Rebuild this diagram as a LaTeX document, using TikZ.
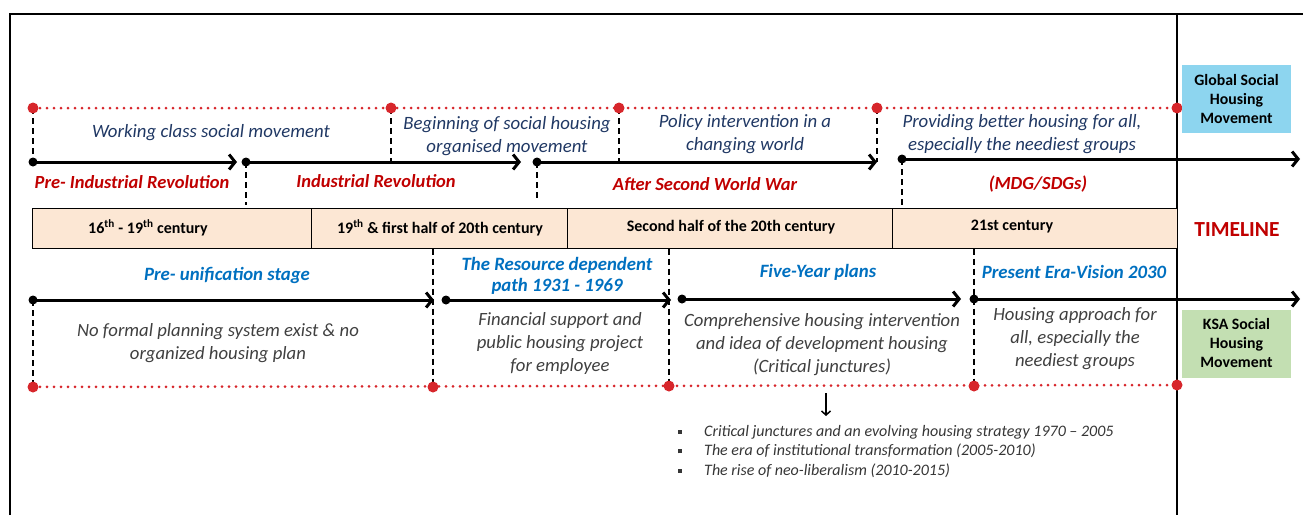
\documentclass[tikz,border=0pt]{standalone}
\usepackage{fontspec}
\setmainfont{Carlito}
\usetikzlibrary{arrows.meta,positioning}
\definecolor{dotred}{HTML}{D7262B}
\definecolor{navy}{HTML}{203864}
\definecolor{erared}{HTML}{C00000}
\definecolor{stageblue}{HTML}{0070C0}
\definecolor{notegray}{HTML}{404040}
\definecolor{peach}{HTML}{FCE7D4}
\definecolor{skyfill}{HTML}{8DD5EF}
\definecolor{greenfill}{HTML}{C3DFB2}

\begin{document}
\begin{tikzpicture}[x=1pt,y=-1pt,
  frame/.style={line width=2pt},
  reddot/.style={draw=dotred,line width=3pt,line cap=round,dash pattern=on 0pt off 7pt},
  guide/.style={line width=1.8pt,dash pattern=on 6pt off 4pt},
  tl/.style={line width=3pt,-{Straight Barb[length=6pt,width=15pt]}},
  phase/.style={text=navy,font=\fontsize{18.8}{23}\selectfont\itshape,align=center},
  era/.style={text=erared,font=\fontsize{18.5}{20}\selectfont\bfseries\itshape},
  stage/.style={text=stageblue,font=\fontsize{18.8}{21}\selectfont\bfseries\itshape,align=center},
  note/.style={text=notegray,font=\fontsize{18.7}{23}\selectfont\itshape,align=center},
  cell/.style={draw,line width=1pt,fill=peach,minimum height=40pt,inner sep=0pt},
  celltext/.style={font=\fontsize{16}{18}\selectfont\bfseries},
  movebox/.style={minimum width=109pt,minimum height=68pt,align=center,
    font=\fontsize{15.8}{19}\selectfont\bfseries}]
  \useasboundingbox (0,0) rectangle (1303,515);

  % frame
  \draw[frame] (10,515) -- (10,14) -- (1303,14);
  \draw[frame] (1177,14) -- (1177,515);

  % global social housing movement
  \coordinate (t0) at (33,108);
  \coordinate (t1) at (391,108);
  \coordinate (t2) at (619,108);
  \coordinate (t3) at (877,108);
  \coordinate (t4) at (1177,108);
  \coordinate (p0) at (33,162);   \coordinate (p0e) at (237,162);
  \coordinate (p1) at (246,162);  \coordinate (p1e) at (521,162);
  \coordinate (p2) at (537,162);  \coordinate (p2e) at (877,162);
  \coordinate (p3) at (902,159);  \coordinate (p3e) at (1300,159);
  \draw[reddot] (t0) -- (t4);
  \draw[guide] (t0) -- (p0);
  \draw[guide] (t1) -- (t1 |- p1);
  \draw[guide] (t2) -- (t2 |- p2);
  \draw[guide] (t3) -- (p2e);
  \draw[guide] (p1) -- ++(0,43);
  \draw[guide] (p2) -- ++(0,36);
  \draw[guide] (p3) -- ++(0,46);
  \foreach \a/\b in {p0/p0e,p1/p1e,p2/p2e,p3/p3e} {
    \draw[tl] (\a) -- (\b);
    \fill (\a) circle (4.5pt);
  }
  \foreach \p in {t0,t1,t2,t3,t4}
    \fill[dotred] (\p) circle (5.5pt);

  \node[phase] (ph1) at (211,133) {Working class social movement};
  \node[phase] (ph2) at (507,136) {Beginning of social housing\\organised movement};
  \node[phase] (ph3) at (745,134) {Policy intervention in a\\changing world};
  \node[phase] (ph4) at (1022,134) {Providing better housing for all,\\especially the neediest groups};
  \node[era] (er1) at (132,182) {Pre- Industrial Revolution};
  \node[era] (er2) at (376,181) {Industrial Revolution};
  \node[era] (er3) at (705,184) {After Second World War};
  \node[era] (er4) at (1038,184) {(MDG/SDGs)};

  % timeline
  \node[cell,minimum width=279pt] (c1) at (171.5,228) {};
  \node[cell,minimum width=256pt] (c2) at (439,228) {};
  \node[cell,minimum width=325pt] (c3) at (729.5,228) {};
  \node[cell,minimum width=285pt] (c4) at (1034.5,228) {};
  \node[celltext] (y1) at (148,228) {16\textsuperscript{th} - 19\textsuperscript{th} century};
  \node[celltext] (y2) at (440,228) {19\textsuperscript{th} \& first half of 20th century};
  \node[celltext] (y3) at (731,227) {Second half of the 20th century};
  \node[celltext] (y4) at (1012,227) {21st century};
  \node[text=erared,font=\fontsize{21.5}{24}\selectfont\bfseries] (tml) at (1237,230) {TIMELINE};

  \node[movebox,fill=skyfill] (gsh) at (1236.5,99) {Global Social\\Housing\\Movement};
  \node[movebox,fill=greenfill] (ksa) at (1236.5,343.5) {KSA Social\\Housing\\Movement};

  % KSA social housing movement
  \coordinate (b0) at (33,387);
  \coordinate (b1) at (433,387);
  \coordinate (b2) at (669,386);
  \coordinate (b3) at (974,386);
  \coordinate (b4) at (1177,385);
  \coordinate (q0) at (33,300);   \coordinate (q0e) at (434,300);
  \coordinate (q1) at (446,300);  \coordinate (q1e) at (671,300);
  \coordinate (q2) at (682,299);  \coordinate (q2e) at (961,299);
  \coordinate (q3) at (974,299);  \coordinate (q3e) at (1300,299);
  \draw[reddot] (b0) -- (b4);
  \draw[guide] (q0) -- (b0);
  \draw[guide] (b1 |- c2.south) -- (b1);
  \draw[guide] (b2 |- c3.south) -- (b2);
  \draw[guide] (b3 |- c4.south) -- (b3);
  \foreach \a/\b in {q0/q0e,q1/q1e,q2/q2e,q3/q3e} {
    \draw[tl] (\a) -- (\b);
    \fill (\a) circle (4.5pt);
  }
  \foreach \p in {b0,b1,b2,b3,b4}
    \fill[dotred] (\p) circle (5.5pt);

  \node[stage] (st1) at (227,275) {Pre- unification stage};
  \node[stage] (st2) at (557,276) {The Resource dependent\\path 1931 - 1969};
  \node[stage] (st3) at (818,272) {Five-Year plans};
  \node[stage] (st4) at (1074,272) {Present Era-Vision 2030};
  \node[note] (nt1) at (218,343) {No formal planning system exist \& no\\organized housing plan};
  \node[note] (nt2) at (560,344) {Financial support and\\public housing project\\for employee};
  \node[note] (nt3) at (822,345) {Comprehensive housing intervention\\and idea of development housing\\(Critical junctures)};
  \node[note] (nt4) at (1075,339) {Housing approach for\\all, especially the\\neediest groups};

  % sub-periods
  \coordinate (dn) at (826,393);
  \coordinate (dne) at (826,416);
  \draw[line width=1.5pt,-{Straight Barb[length=4pt,width=9pt]}] (dn) -- (dne);
  \node[anchor=north west,align=left,text=notegray!85!black,inner sep=0pt,
    font=\fontsize{16}{19.5}\selectfont\itshape] (lst) at (678,425)
    {\rule[2.5pt]{4pt}{4pt}\hspace{22pt}Critical junctures and an evolving housing strategy 1970 -- 2005\\
     \rule[2.5pt]{4pt}{4pt}\hspace{22pt}The era of institutional transformation (2005-2010)\\
     \rule[2.5pt]{4pt}{4pt}\hspace{22pt}The rise of neo-liberalism (2010-2015)};
\end{tikzpicture}
\end{document}
